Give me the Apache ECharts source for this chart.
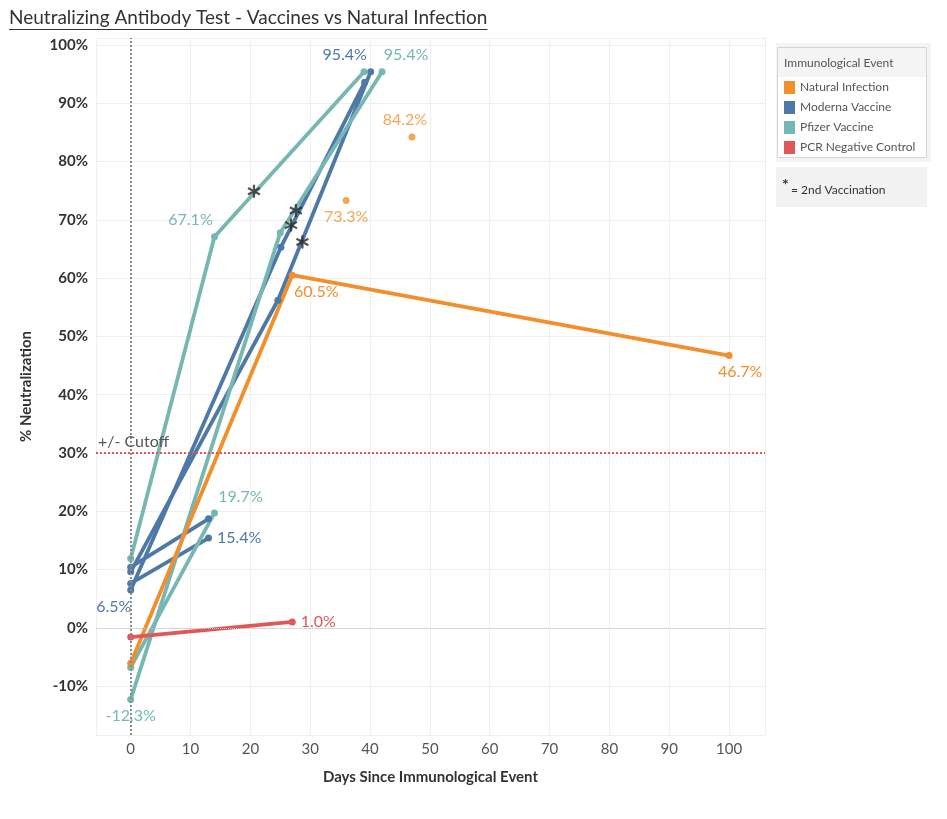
<!DOCTYPE html>
<html>
<head>
<meta charset="utf-8">
<script src="https://cdn.jsdelivr.net/npm/echarts@6/dist/echarts.min.js"></script>
<style>
	html, body { margin: 0; padding: 0; background: #fff; }
	#main { width: 947px; height: 819px; }
</style>
</head>
<body>
<div id="main"></div>
<script>
// values: [days since event, % neutralization]
var pfizer_1 = [[0, 11.9], [14, 67.1], [39, 95.4]];
var pfizer_2 = [[0, -12.3], [25, 67.8], [42, 95.4]];
var pfizer_3 = [[0, -6.8], [14, 19.7]];
var moderna_1 = [[0, 6.5], [25.1, 65.3], [39.1, 93.6]];
var moderna_2 = [[0, 9.6], [24.6, 56.2], [40.1, 95.4]];
var moderna_3 = [[0, 10.4], [13, 18.7]];
var moderna_4 = [[0, 7.6], [13, 15.4]];
var natural_1 = [[0, -6.1], [27, 60.5], [100, 46.7]];
var natural_single = [[36, 73.3], [47, 84.2]];
var pcr_1 = [[0, -1.6], [27, 1.0]];
var second_dose = [[20.6, 74.9], [27.6, 71.6], [26.8, 69.1], [28.7, 66.2]];
var cutoff = 30;

var categories = ['Natural Infection', 'Moderna Vaccine', 'Pfizer Vaccine', 'PCR Negative Control'];
var colors = {
	'Natural Infection': '#f28e2b',
	'Moderna Vaccine': '#4e79a7',
	'Pfizer Vaccine': '#76b7b2',
	'PCR Negative Control': '#e15759'
};

var FONT = 'Lato';
var title_text = 'Neutralizing Antibody Test - Vaccines vs Natural Infection';

function pct(p) {
	return p.value[1].toFixed(1) + '%';
}

// labels: { pointIndex: {position, offset} }
function mkSeries(name, type, pts, labels) {
	labels = labels || {};
	var color = colors[name];
	return {
		name: name,
		type: type,
		data: pts.map(function (p, i) {
			var d = { value: p };
			if (labels[i]) {
				d.label = Object.assign({ show: true }, labels[i]);
			}
			return d;
		}),
		symbol: 'circle',
		symbolSize: 7,
		showSymbol: true,
		lineStyle: { width: 3.8, color: color },
		itemStyle: { color: color },
		label: { show: false, formatter: pct, color: color, fontSize: 16, fontFamily: FONT },
		emphasis: { disabled: true },
		silent: true,
		z: 3
	};
}

var asterisk = 'path://M-1.6,-10L1.6,-10L1.6,10L-1.6,10Z' +
	'M-7.86,-6.39L9.46,3.61L7.86,6.39L-9.46,-3.61Z' +
	'M9.46,-3.61L-7.86,6.39L-9.46,3.61L7.86,-6.39Z';

var series = [
	{
		// reference lines
		name: 'ref', type: 'line', data: [], silent: true, z: 1,
		markLine: {
			silent: true,
			symbol: 'none',
			animation: false,
			data: [
				{ xAxis: 0, lineStyle: { type: 'dotted', color: '#8c8c8c', width: 2 }, label: { show: false } },
				{ yAxis: 0, lineStyle: { type: 'dotted', color: '#c8c8c8', width: 1 }, label: { show: false } },
				{
					yAxis: cutoff,
					lineStyle: { type: 'dotted', color: '#e15759', width: 2 },
					label: {
						show: true, position: 'insideStartTop', formatter: '+/- Cutoff',
						color: '#555', fontSize: 16, fontFamily: FONT, distance: [2, 3]
					}
				}
			]
		}
	},
	mkSeries('Moderna Vaccine', 'line', moderna_1, { 0: { position: 'bottom', offset: [-17, 0] } }),
	mkSeries('Moderna Vaccine', 'line', moderna_2, { 2: { position: 'top', offset: [-26, 0] } }),
	mkSeries('Moderna Vaccine', 'line', moderna_3),
	mkSeries('Moderna Vaccine', 'line', moderna_4, { 1: { position: 'right', offset: [0, 0] } }),
	mkSeries('Pfizer Vaccine', 'line', pfizer_1, { 1: { position: 'top', offset: [-24, 0] } }),
	mkSeries('Pfizer Vaccine', 'line', pfizer_2, { 0: { position: 'bottom', offset: [0, 0] }, 2: { position: 'top', offset: [24, 0] } }),
	mkSeries('Pfizer Vaccine', 'line', pfizer_3, { 1: { position: 'top', offset: [26, 0] } }),
	mkSeries('Natural Infection', 'line', natural_1, { 1: { position: 'bottom', offset: [24, 0] }, 2: { position: 'bottom', offset: [11, 0] } }),
	mkSeries('Natural Infection', 'scatter', natural_single, { 0: { position: 'bottom', offset: [0, 0] }, 1: { position: 'top', offset: [-7, -1] } }),
	mkSeries('PCR Negative Control', 'line', pcr_1, { 1: { position: 'right', offset: [0, 0] } }),
	{
		name: '2nd Vaccination',
		type: 'scatter',
		data: second_dose,
		symbol: asterisk,
		symbolSize: 13,
		itemStyle: { color: '#2b2b2b' },
		silent: true,
		z: 5
	}
];

var chart = echarts.init(document.getElementById('main'), null, { renderer: 'canvas' });

// measure title so the underline fits it
var ctx = document.createElement('canvas').getContext('2d');
ctx.font = '19px ' + FONT;
var title_w = ctx.measureText(title_text).width;

var option = {
	animation: false,
	backgroundColor: '#fff',
	grid: { left: 96, right: 182, top: 38, bottom: 84, containLabel: false },
	xAxis: {
		type: 'value',
		min: -5.8,
		max: 106,
		minInterval: 10,
		maxInterval: 10,
		name: 'Days Since Immunological Event',
		nameLocation: 'middle',
		nameGap: 35,
		nameTextStyle: { fontSize: 15, fontWeight: 'bold', color: '#333', fontFamily: FONT },
		axisLine: { show: true, lineStyle: { color: '#e6e6e6' } },
		axisTick: { show: false },
		axisLabel: { showMinLabel: false, showMaxLabel: false, fontSize: 15, color: '#555', fontFamily: FONT, margin: 7 },
		splitLine: { show: true, lineStyle: { color: '#efefef' } }
	},
	yAxis: {
		type: 'value',
		min: -18.4,
		max: 101.2,
		minInterval: 10,
		maxInterval: 10,
		name: '% Neutralization',
		nameLocation: 'middle',
		nameGap: 62,
		nameTextStyle: { fontSize: 15, fontWeight: 'bold', color: '#333', fontFamily: FONT },
		axisLine: { show: false },
		axisTick: { show: false },
		axisLabel: {
			showMinLabel: false, showMaxLabel: false,
			formatter: '{value}%', fontSize: 15, fontWeight: 'bold', color: '#333', fontFamily: FONT, margin: 8
		},
		splitLine: { show: true, lineStyle: { color: '#efefef' } }
	},
	legend: {
		data: categories,
		orient: 'vertical',
		left: 784,
		top: 81,
		padding: 0,
		icon: 'rect',
		itemWidth: 11,
		itemHeight: 13,
		itemGap: 7,
		selectedMode: false,
		textStyle: { fontSize: 12, color: '#555', fontFamily: FONT }
	},
	graphic: [
		{ type: 'text', left: 9, top: 8, style: { text: title_text, font: '19px ' + FONT, fill: '#333' } },
		{ type: 'line', shape: { x1: 9, y1: 29.5, x2: 9 + title_w, y2: 29.5 }, style: { stroke: '#333', lineWidth: 1 } },
		{ type: 'rect', shape: { x: 776, y: 43, width: 155, height: 119 }, style: { fill: '#f4f4f4' } },
		{ type: 'rect', shape: { x: 777.5, y: 47.5, width: 149, height: 110 }, style: { fill: '#fff', stroke: '#d4d4d4', lineWidth: 1 } },
		{ type: 'rect', shape: { x: 778, y: 48, width: 148, height: 29 }, style: { fill: '#f4f4f4' } },
		{ type: 'text', x: 784, y: 63, style: { text: 'Immunological Event', font: '12px ' + FONT, fill: '#555', verticalAlign: 'middle' } },
		{ type: 'rect', shape: { x: 776, y: 167, width: 151, height: 40 }, style: { fill: '#f2f2f2' } },
		{ type: 'text', x: 782, y: 185, style: { text: '*', font: 'bold 16px ' + FONT, fill: '#333', verticalAlign: 'middle' } },
		{ type: 'text', x: 791, y: 190, style: { text: '= 2nd Vaccination', font: '12px ' + FONT, fill: '#333', verticalAlign: 'middle' } }
	],
	series: series
};

chart.setOption(option);
</script>
</body>
</html>
